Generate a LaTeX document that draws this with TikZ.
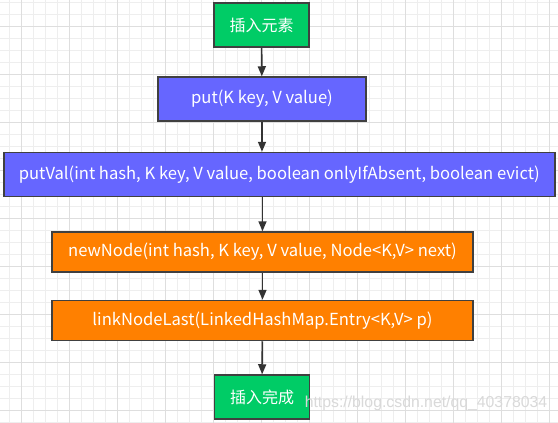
\documentclass[tikz,border=0pt]{standalone}
\usepackage{fontspec}
\setmainfont{Noto Sans CJK SC}
\newfontfamily\wmfont{Liberation Sans}
\usetikzlibrary{arrows.meta}
\definecolor{boxgreen}{RGB}{0,204,102}
\definecolor{boxblue}{RGB}{102,102,255}
\definecolor{boxorange}{RGB}{255,128,0}
\definecolor{boxline}{RGB}{64,64,64}
\definecolor{arrline}{RGB}{51,51,51}
\definecolor{gridminor}{RGB}{238,238,238}
\definecolor{gridmajor}{RGB}{222,222,222}
\tikzset{
  box/.style={draw=boxline, line width=1.5pt, text=white, inner sep=0pt,
    font=\fontsize{16.6pt}{19pt}\selectfont},
  greenbox/.style={box, fill=boxgreen, minimum width=95pt, minimum height=44pt,
    font=\fontsize{16pt}{19pt}\selectfont},
  bluebox/.style={box, fill=boxblue, minimum height=44pt},
  orangebox/.style={box, fill=boxorange, minimum width=421pt, minimum height=40pt},
  arr/.style={draw=arrline, line width=1.6pt, -{Triangle[length=10pt,width=8pt]}},
}
\begin{document}
\begin{tikzpicture}[x=1pt,y=-1pt]
\fill[white] (0,0) rectangle (558,423);
\useasboundingbox (0,0) rectangle (558,423);
\foreach \x in {0,...,46} {\draw[gridminor, line width=0.8pt] ({9.3+12*\x},0) -- ({9.3+12*\x},423);}
\foreach \y in {0,...,35} {\draw[gridminor, line width=0.8pt] (0,{2.7+12*\y}) -- (558,{2.7+12*\y});}
\foreach \x in {0,...,11} {\draw[gridmajor, line width=0.8pt] ({21.3+48*\x},0) -- ({21.3+48*\x},423);}
\foreach \y in {0,...,8} {\draw[gridmajor, line width=0.8pt] (0,{26.7+48*\y}) -- (558,{26.7+48*\y});}

\node[greenbox] (n1) at (261.5,25) {插入元素};
\node[bluebox, minimum width=208pt] (n2) at (262,99) {put(K key, V value)};
\node[bluebox, minimum width=551pt] (n3) at (279.3,174.5) {putVal(int hash, K key, V value, boolean onlyIfAbsent, boolean evict)};
\node[orangebox] (n4) at (262.5,252) {newNode(int hash, K key, V value, Node<K,V> next)};
\node[orangebox] (n5) at (262.5,320.5) {linkNodeLast(LinkedHashMap.Entry<K,V> p)};
\node[greenbox] (n6) at (262,397) {插入完成};

\draw[arr] (n1) -- (n2);
\draw[arr] (n2.south) -- (n2.south |- n3.north);
\draw[arr] (n4.north |- n3.south) -- (n4.north);
\draw[arr] (n4) -- (n5);
\draw[arr] (n5) -- (n6);

\node[text=gray!30, font=\wmfont\fontsize{15.8pt}{20pt}\selectfont, inner sep=0pt] (wm) at (426,403) {https://blog.csdn.net/qq\_40378034};
\end{tikzpicture}
\end{document}
